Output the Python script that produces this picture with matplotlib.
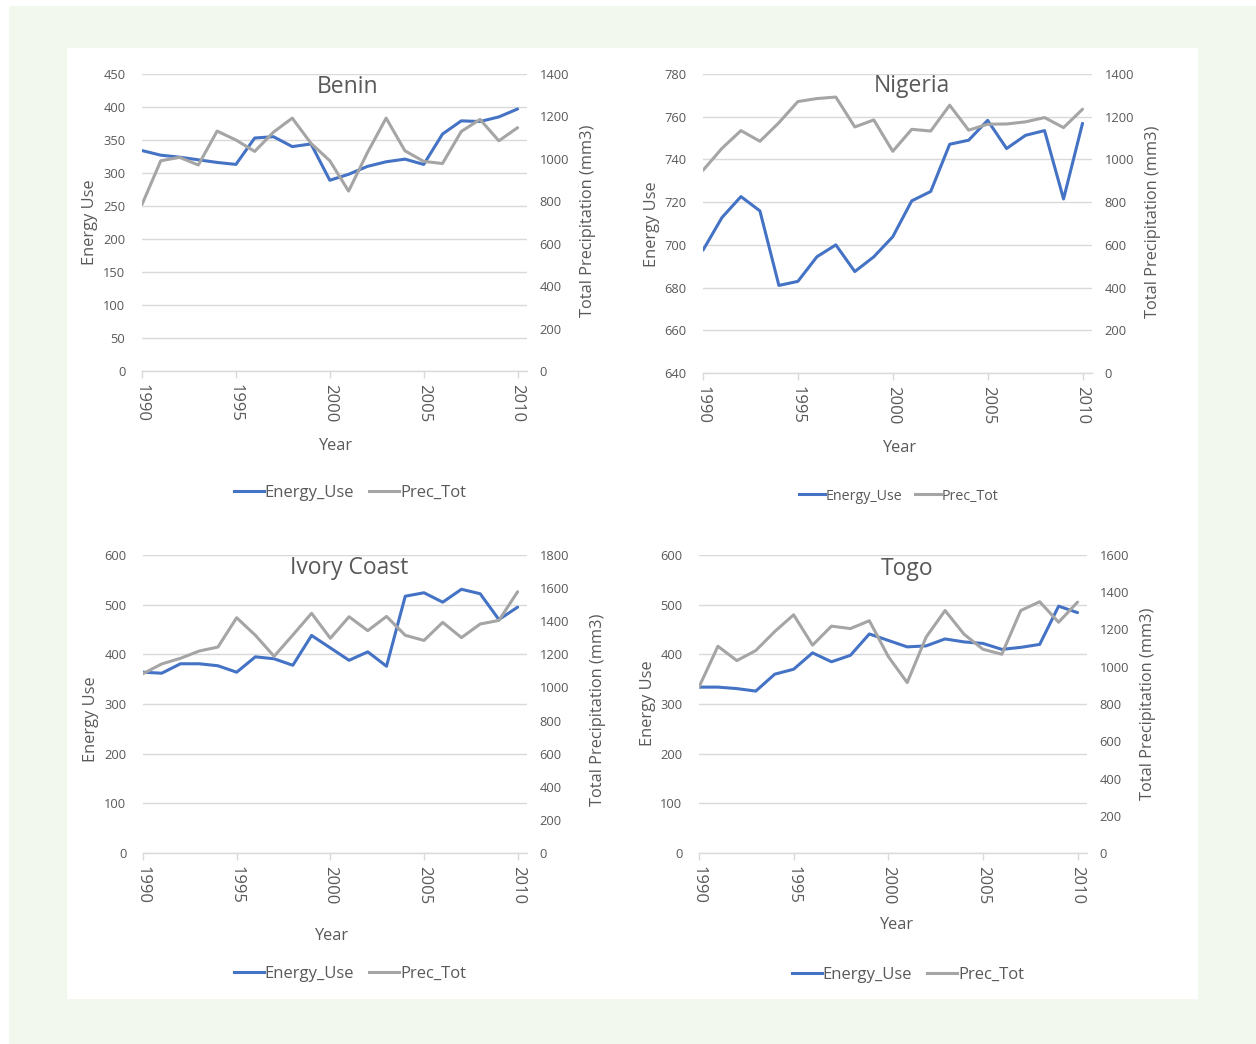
import matplotlib.pyplot as plt
from matplotlib.patches import Rectangle
from matplotlib.lines import Line2D

plt.rcParams['font.family'] = ['Open Sans', 'DejaVu Sans']

years = list(range(1990, 2011))

benin_energy = [334, 327, 324, 320, 316, 313, 353, 355, 340, 344, 289,
                298, 310, 317, 321, 313, 359, 379, 378, 385, 397]
benin_prec = [785, 991, 1007, 971, 1131, 1089, 1035, 1126, 1192, 1073, 991,
              848, 1029, 1192, 1038, 988, 978, 1129, 1186, 1085, 1147]

nigeria_energy = [697.5, 712.8, 722.6, 715.9, 681.0, 682.9, 694.4, 700.0, 687.5,
                  694.4, 703.8, 720.6, 725.0, 747.1, 749.0, 758.3, 745.1, 751.3,
                  753.5, 721.5, 756.9]
nigeria_prec = [949, 1052, 1135, 1085, 1172, 1271, 1285, 1292, 1152, 1185, 1038,
                1141, 1133, 1254, 1137, 1165, 1166, 1176, 1196, 1149, 1235]

ivory_energy = [364, 362, 381, 381, 377, 364, 395, 391, 378, 438, 413,
                388, 405, 376, 517, 524, 505, 531, 522, 470, 495]
ivory_prec = [1083, 1142, 1176, 1220, 1244, 1421, 1315, 1188, 1317, 1448, 1297,
              1427, 1343, 1429, 1315, 1284, 1393, 1301, 1383, 1405, 1578]

togo_energy = [334, 334, 331, 326, 360, 370, 403, 385, 398, 441, 428,
               415, 417, 431, 425, 422, 410, 414, 420, 497, 484]
togo_prec = [891, 1110, 1033, 1087, 1189, 1279, 1116, 1218, 1205, 1247, 1055,
             915, 1159, 1302, 1175, 1094, 1067, 1302, 1349, 1239, 1347]

BLUE = '#4472C4'
GREY = '#A5A5A5'
TEXT = '#595959'
GRID = '#D9D9D9'

W, H = 1256, 1044
fig = plt.figure(figsize=(W / 100, H / 100), dpi=100)


def fx(px):
    return px / W


def fy(py):
    return 1 - py / H


# page background and white chart area
fig.patches.append(Rectangle((fx(9), 0), 1 - fx(9), fy(6), transform=fig.transFigure,
                             facecolor='#F3F8EE', edgecolor='none', zorder=-10))
fig.patches.append(Rectangle((fx(67), fy(999)), fx(1198 - 67), (999 - 48) / H,
                             transform=fig.transFigure, facecolor='white',
                             edgecolor='none', zorder=-9))

panels = [
    dict(name='Benin', energy=benin_energy, prec=benin_prec,
         box=(142, 74, 527, 371), ylim=(0, 450), ystep=50, rlim=(0, 1400),
         title=(348, 87), ylab=(90, 222), rlab=(588, 221), xlab=(335, 446),
         leg=(350, 493), legsize=12),
    dict(name='Nigeria', energy=nigeria_energy, prec=nigeria_prec,
         box=(703, 74, 1092, 373), ylim=(640, 780), ystep=20, rlim=(0, 1400),
         title=(912, 86), ylab=(652, 224), rlab=(1153, 222), xlab=(899, 448),
         leg=(899, 496), legsize=10.3),
    dict(name='Ivory Coast', energy=ivory_energy, prec=ivory_prec,
         box=(143, 555, 527, 853), ylim=(0, 600), ystep=100, rlim=(0, 1800),
         title=(349, 568), ylab=(91, 719), rlab=(598, 710), xlab=(331, 936),
         leg=(350, 974), legsize=12),
    dict(name='Togo', energy=togo_energy, prec=togo_prec,
         box=(699, 555, 1087, 853), ylim=(0, 600), ystep=100, rlim=(0, 1600),
         title=(907, 569), ylab=(648, 703), rlab=(1148, 704), xlab=(896, 925),
         leg=(908, 975), legsize=12),
]

for p in panels:
    x0, y0, x1, y1 = p['box']
    ax = fig.add_axes([fx(x0), fy(y1), fx(x1 - x0), (y1 - y0) / H])
    ax.set_facecolor('none')
    ax2 = ax.twinx()

    ax.plot(years, p['energy'], color=BLUE, lw=2.2, solid_capstyle='round', zorder=3)
    ax2.plot(years, p['prec'], color=GREY, lw=2.2, solid_capstyle='round', zorder=3)

    ax.set_xlim(1990, 2010.5)
    ax.set_ylim(*p['ylim'])
    ax.set_yticks(range(p['ylim'][0], p['ylim'][1] + 1, p['ystep']))
    ax2.set_ylim(*p['rlim'])
    ax2.set_yticks(range(p['rlim'][0], p['rlim'][1] + 1, 200))
    ax.set_xticks(range(1990, 2011, 5))

    ax.yaxis.grid(True, color=GRID, lw=1)
    ax.set_axisbelow(True)
    for a in (ax, ax2):
        for s in ('top', 'left', 'right'):
            a.spines[s].set_visible(False)
        a.spines['bottom'].set_color(GRID)
        a.spines['bottom'].set_linewidth(1)
    ax2.spines['bottom'].set_visible(False)

    ax.tick_params(axis='y', length=0, labelsize=9.3, labelcolor=TEXT, pad=12)
    ax2.tick_params(axis='y', length=0, labelsize=9.3, labelcolor=TEXT, pad=9)
    ax.tick_params(axis='x', length=5, color=GRID, width=1, labelsize=12,
                   labelcolor=TEXT, labelrotation=-90, pad=4)

    fig.text(fx(p['title'][0]), fy(p['title'][1]), p['name'], ha='center',
             va='center', fontsize=16.5, color=TEXT)
    fig.text(fx(p['ylab'][0]), fy(p['ylab'][1]), 'Energy Use', rotation=90,
             ha='center', va='center', fontsize=11.8, color=TEXT)
    fig.text(fx(p['rlab'][0]), fy(p['rlab'][1]), 'Total Precipitation (mm3)',
             rotation=90, ha='center', va='center', fontsize=11.8, color=TEXT)
    fig.text(fx(p['xlab'][0]), fy(p['xlab'][1]), 'Year', ha='center',
             va='center', fontsize=11.8, color=TEXT)

    handles = [Line2D([], [], color=BLUE, lw=2.2), Line2D([], [], color=GREY, lw=2.2)]
    fig.legend(handles, ['Energy_Use', 'Prec_Tot'], loc='center',
               bbox_to_anchor=(fx(p['leg'][0]), fy(p['leg'][1])), ncol=2,
               frameon=False, handlelength=1.8, handletextpad=0.05,
               columnspacing=0.9, fontsize=p['legsize'], labelcolor=TEXT,
               borderaxespad=0, borderpad=0)

fig.savefig('out.png', dpi=100)
